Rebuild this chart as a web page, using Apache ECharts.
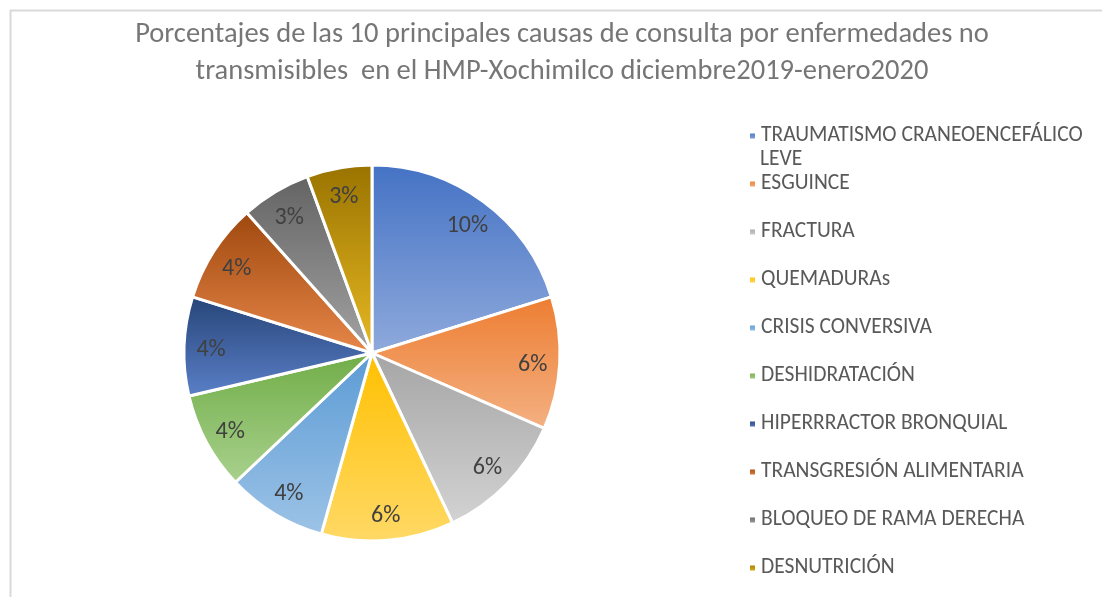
<!DOCTYPE html>
<html>
<head>
<meta charset="utf-8">
<script src="https://cdn.jsdelivr.net/npm/echarts@6/dist/echarts.min.js"></script>
<style>
html,body{margin:0;padding:0;background:#fff;}
#chart{width:1102px;height:597px;}
</style>
</head>
<body>
<div id="chart"></div>
<script>
var titleLines = ['Porcentajes de las 10 principales causas de consulta por enfermedades no', 'transmisibles  en el HMP-Xochimilco diciembre2019-enero2020'];
var categories = ['TRAUMATISMO CRANEOENCEFÁLICO LEVE', 'ESGUINCE', 'FRACTURA', 'QUEMADURAs', 'CRISIS CONVERSIVA', 'DESHIDRATACIÓN', 'HIPERRRACTOR BRONQUIAL', 'TRANSGRESIÓN ALIMENTARIA', 'BLOQUEO DE RAMA DERECHA', 'DESNUTRICIÓN'];
var values = [10.1, 5.7, 5.7, 5.7, 4.3, 4.2, 4.25, 4.3, 3.0, 2.8];
var topColors = ['#4472C4', '#ED7D31', '#A5A5A5', '#FFC000', '#5B9BD5', '#70AD47', '#264478', '#9E480E', '#636363', '#997300'];
var bottomColors = ['#8FAADC', '#F4B183', '#D3D3D3', '#FFD966', '#9DC3E6', '#A9D18E', '#5B80C8', '#E8874A', '#A3A3A3', '#E8B923'];

var FONT = 'Carlito, Lato, "Open Sans", sans-serif';
var chart = echarts.init(document.getElementById('chart'), null, {renderer: 'canvas'});

function grad(i) {
  return new echarts.graphic.LinearGradient(0, 0, 0, 1, [
    {offset: 0, color: topColors[i]},
    {offset: 1, color: bottomColors[i]}
  ]);
}

var pieData = categories.map(function (c, i) {
  return {name: c, value: values[i], itemStyle: {color: grad(i)}};
});
var labelData = categories.map(function (c, i) {
  return {name: c, value: values[i]};
});

chart.setOption({
  animation: false,
  backgroundColor: '#ffffff',
  title: {
    text: titleLines.join('\n'),
    left: 557,
    top: 11,
    textAlign: 'center',
    textStyle: {fontFamily: FONT, fontSize: 28.5, fontWeight: 'normal', color: '#767676', lineHeight: 37}
  },
  graphic: [
    {type: 'rect', left: 8, top: 8, shape: {width: 1200, height: 700}, style: {fill: 'none', stroke: '#d9d9d9', lineWidth: 2}, silent: true},
    {type: 'text', left: 760, top: 149, style: {text: 'LEVE', font: '21.5px ' + FONT, fill: '#595959'}, silent: true}
  ],
  legend: {
    orient: 'vertical',
    left: 748,
    top: 124,
    padding: 0,
    icon: 'rect',
    itemWidth: 7,
    itemHeight: 7,
    itemGap: 24,
    data: categories,
    formatter: function (name) {
      return name === categories[0] ? 'TRAUMATISMO CRANEOENCEFÁLICO' : name;
    },
    textStyle: {fontFamily: FONT, fontSize: 21.5, color: '#595959', lineHeight: 24}
  },
  series: [
    {
      type: 'pie',
      center: [372, 353],
      radius: [0, 188],
      startAngle: 90,
      clockwise: true,
      label: {show: false},
      labelLine: {show: false},
      itemStyle: {borderColor: '#ffffff', borderWidth: 3},
      emphasis: {disabled: true},
      data: pieData
    },
    {
      type: 'pie',
      center: [372, 356],
      radius: [0, 316],
      startAngle: 90,
      clockwise: true,
      silent: true,
      legendHoverLink: false,
      itemStyle: {color: 'rgba(0,0,0,0)'},
      label: {
        show: true,
        position: 'inside',
        fontFamily: FONT,
        fontSize: 24,
        color: '#404040',
        formatter: function (p) { return Math.round(p.value) + '%'; }
      },
      labelLine: {show: false},
      emphasis: {disabled: true},
      data: labelData
    }
  ]
});
</script>
</body>
</html>
